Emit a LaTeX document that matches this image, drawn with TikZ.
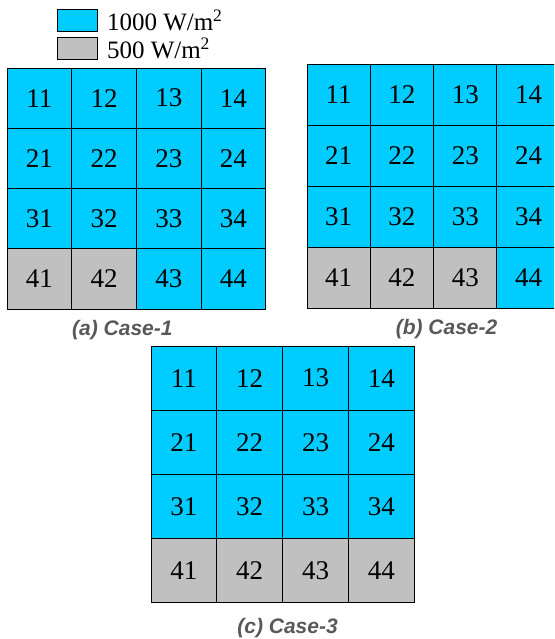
\documentclass[tikz,border=0pt]{standalone}
\usepackage{fontspec}
\setmainfont{Liberation Serif}
\newfontfamily\capfont{Liberation Sans}
\usetikzlibrary{positioning}
\definecolor{sunblue}{HTML}{00CCFF}
\definecolor{shadegray}{HTML}{C0C0C0}
\definecolor{captext}{HTML}{595959}

\begin{document}
\begin{tikzpicture}[
    x=1pt, y=-1pt,
    every node/.style={inner sep=0pt, outer sep=0pt},
    cell/.style={rectangle, draw, line width=0.9pt, anchor=north west, font=\fontsize{27}{27}\selectfont},
    legendbox/.style={rectangle, draw, line width=0.9pt, minimum width=40pt, minimum height=22pt},
    legendtext/.style={font=\fontsize{25}{25}\selectfont, anchor=west},
    caption/.style={font=\capfont\bfseries\itshape\fontsize{21}{21}\selectfont, text=captext},
]
\clip (0,0) rectangle (554,639);

% legend
\node[legendbox, fill=sunblue] (full) at (77,20) {};
\node[legendbox, fill=shadegray, below=6pt of full] (half) {};
\node[legendtext, right=10pt of full] (fulltxt) {1000 W/m\textsuperscript{2}};
\node[legendtext, right=10pt of half] (halftxt) {500 W/m\textsuperscript{2}};

% the three 4x4 arrays, last number = shaded cells in row 4
\foreach \g/\ox/\oy/\w/\h/\n in {a/7/68/64.7/60.3/2, b/307/64/63.3/61/3, c/151/346/65.8/64.2/4}{
  \foreach \r in {1,...,4}{
    \foreach \c in {1,...,4}{
      \pgfmathtruncatemacro\isgray{and(\r==4,\c<=\n)}
      \ifnum\isgray=1 \def\tone{shadegray}\else\def\tone{sunblue}\fi
      \node[cell, fill=\tone, minimum width=\w pt, minimum height=\h pt]
        (\g\r\c) at ({\ox+(\c-1)*\w},{\oy+(\r-1)*\h}) {\r\c};
    }
  }
}

% captions
\node[caption, below=11pt of a42.south east, xshift=-14pt] (capa) {(a) Case-1};
\node[caption, below=11pt of b42.south east, xshift=13pt] (capb) {(b) Case-2};
\node[caption, below=15pt of c42.south east, xshift=5pt] (capc) {(c) Case-3};

\end{tikzpicture}
\end{document}
